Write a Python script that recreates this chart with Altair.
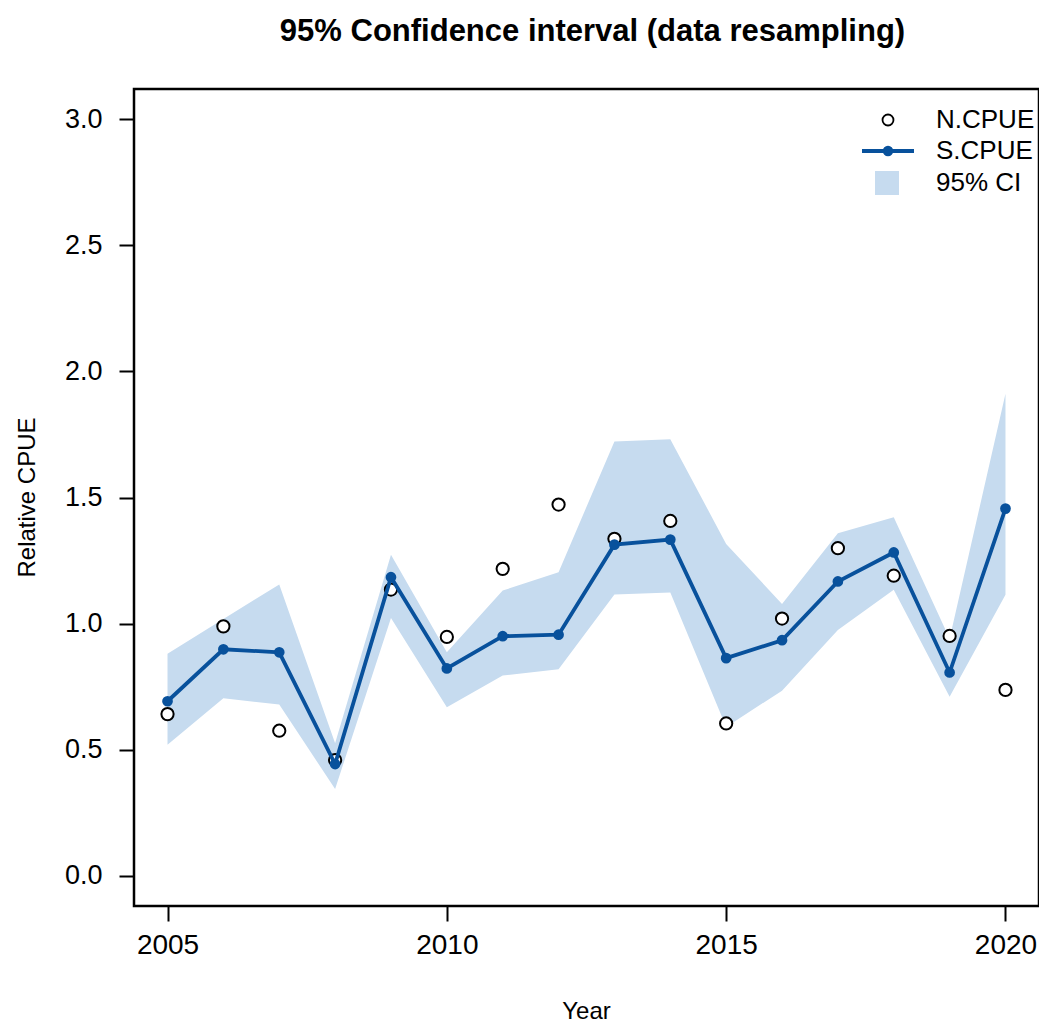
import altair as alt
import pandas as pd

years = list(range(2005, 2021))
s_cpue = [0.692, 0.898, 0.886, 0.443, 1.184, 0.822, 0.950, 0.956, 1.313, 1.333,
          0.863, 0.934, 1.167, 1.282, 0.806, 1.456]
n_cpue = [0.641, 0.989, 0.575, 0.459, 1.135, 0.947, 1.217, 1.472, 1.336, 1.407,
          0.604, 1.020, 1.299, 1.190, 0.951, 0.737]
ci_lower = [0.519, 0.704, 0.679, 0.344, 1.022, 0.668, 0.794, 0.819, 1.115, 1.123,
            0.590, 0.734, 0.975, 1.134, 0.710, 1.114]
ci_upper = [0.880, 1.018, 1.155, 0.525, 1.273, 0.886, 1.131, 1.204, 1.722, 1.731,
            1.316, 1.078, 1.358, 1.422, 0.940, 1.911]

x_ticks = [2005, 2010, 2015, 2020]
y_ticks = [0.0, 0.5, 1.0, 1.5, 2.0, 2.5, 3.0]

LINE = "#08519c"
BAND = "#c6dbef"
FONT = "Liberation Sans"

df = pd.DataFrame({
    "Year": years,
    "S": s_cpue,
    "N": n_cpue,
    "lo": ci_lower,
    "hi": ci_upper,
    "ci": ["95% CI"] * len(years),
    "nlab": ["N.CPUE"] * len(years),
    "slab": ["S.CPUE"] * len(years),
})

xscale = alt.Scale(domain=[2004.4, 2020.6], nice=False, zero=False)
yscale = alt.Scale(domain=[-0.12, 3.12], nice=False, zero=False)

xaxis = alt.Axis(values=x_ticks, format="d", title="Year", titleX=452, titleY=105,
                 titleBaseline="middle")
yaxis = alt.Axis(values=y_ticks, format=".1f", title="Relative CPUE", titleX=-107,
                 titleY=408, titleBaseline="middle", titleAngle=-90)

base = alt.Chart(df)

band = base.mark_area(opacity=1).encode(
    x=alt.X("Year:Q", scale=xscale, axis=xaxis),
    y=alt.Y("lo:Q", scale=yscale, axis=yaxis),
    y2="hi:Q",
    fill=alt.Fill("ci:N", scale=alt.Scale(domain=["95% CI"], range=[BAND]),
                  legend=alt.Legend(title=None, orient="none", legendX=740, legendY=81,
                                    symbolType="square", symbolSize=576,
                                    symbolStrokeWidth=0, symbolOpacity=1,
                                    labelOffset=36, padding=0)),
)

npts = base.mark_point(filled=False, fill="white", fillOpacity=1,
                       strokeWidth=2, size=150, opacity=1).encode(
    x="Year:Q",
    y="N:Q",
    color=alt.Color("nlab:N", scale=alt.Scale(domain=["N.CPUE"], range=["black"]),
                    legend=alt.Legend(title=None, orient="none", legendX=741, legendY=18,
                                      symbolType="circle", symbolSize=120,
                                      symbolFillColor="white", symbolStrokeColor="black",
                                      symbolStrokeWidth=1.8, symbolOpacity=1,
                                      labelOffset=35, padding=0)),
)

sline = base.mark_line(strokeWidth=3.8).encode(
    x="Year:Q",
    y="S:Q",
    stroke=alt.Stroke("slab:N", scale=alt.Scale(domain=["S.CPUE"], range=[LINE]),
                      legend=alt.Legend(title=None, orient="none", legendX=726, legendY=34,
                                        symbolType="M-1,0L1,0M0.13,0A0.13,0.13,0,1,1,-0.13,0A0.13,0.13,0,1,1,0.13,0Z",
                                        symbolSize=2704, symbolFillColor=LINE,
                                        symbolStrokeColor=LINE, symbolStrokeWidth=3.8,
                                        labelOffset=20, padding=0)),
)

spts = base.mark_circle(size=115, color=LINE, opacity=1).encode(
    x="Year:Q",
    y="S:Q",
)

chart = alt.layer(band, npts, sline, spts).properties(
    width=905,
    height=817,
    title=alt.Title("95% Confidence interval (data resampling)", fontSize=31,
                    fontWeight="bold", font=FONT, anchor="middle", offset=41,
                    dx=6, color="black"),
    autosize=alt.AutoSizeParams(type="none"),
    padding={"left": 126, "top": 81, "right": 0, "bottom": 120},
).configure(font=FONT).configure_view(
    stroke="black", strokeWidth=2.5
).configure_axis(
    grid=False, domain=False, tickSize=15, tickWidth=2, tickColor="black",
    labelFontSize=27, labelColor="black", labelFont=FONT, labelPadding=17,
    titleFontSize=24, titleFontWeight="normal", titleColor="black", titleFont=FONT,
).configure_axisX(labelPadding=10, labelFontSize=28).configure_legend(
    labelFontSize=26, labelColor="black", labelFont=FONT,
)

chart.save("out.html", embed_options={"renderer": "svg", "actions": False})
